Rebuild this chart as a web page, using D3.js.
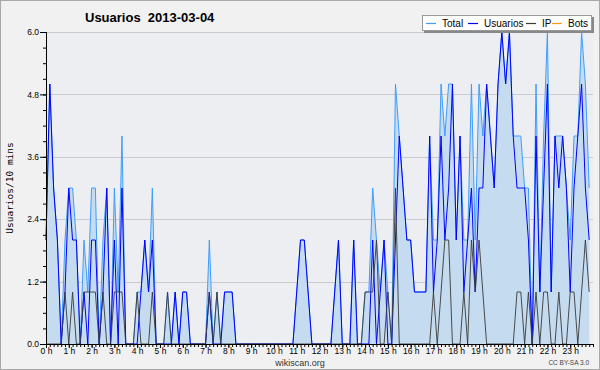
<!DOCTYPE html>
<html>
<head>
<meta charset="utf-8">
<script src="https://cdn.jsdelivr.net/npm/d3@7"></script>
<style>
  body { margin: 0; background: #ffffff; }
  svg { display: block; font-family: 'Liberation Sans', sans-serif; }
  .tick text { font-size: 8.5px; fill: #000; font-family: 'Liberation Sans', sans-serif; }
</style>
</head>
<body>
<svg id="svg-chart" width="600" height="370"></svg>
<script>
//////////////////////////////////////////////////////////////////////////////////////////
// Data (one value per 10 minutes, 144 slots)
//////////////////////////////////////////////////////////////////////////////////////////

var series_names = ['Total', 'Usuarios', 'IP', 'Bots']

var total = [
  2,5,3,2,0,2,3,3,2,0, 2,1,3,3,0,2,3,0,3,1, 4,0,0,0,1,1,2,1,3,0,
  0,0,1,0,1,0,1,1,0,0, 0,0,0,2,0,1,0,1,1,1, 0,0,0,0,0,0,0,0,0,0,
  0,0,0,0,0,0,1,2,2,1, 0,0,0,0,0,0,1,2,0,0, 0,2,0,0,1,1,3,2,1,2,
  1,0,5,4,3,2,2,1,1,1, 1,4,2,2,5,4,5,5,2,4, 2,2,5,2,5,4,5,4,3,5,
  6,5,6,4,4,4,3,3,0,5, 1,4,6,1,4,4,4,3,2,4, 4,6,5,3
]

var usuarios = [
  2,5,3,2,0,1,3,2,2,0, 1,0,2,2,0,1,3,0,2,0, 3,0,0,0,0,1,2,1,2,0,
  0,0,0,0,1,0,1,1,0,0, 0,0,0,1,0,0,0,1,1,1, 0,0,0,0,0,0,0,0,0,0,
  0,0,0,0,0,0,1,2,2,1, 0,0,0,0,0,0,1,2,0,0, 0,2,0,0,0,0,2,0,1,2,
  0,0,2,4,3,2,2,1,1,1, 1,4,1,2,4,2,3,5,2,4, 1,2,3,1,3,3,5,4,3,5,
  6,5,6,4,3,3,3,2,0,4, 1,3,5,1,4,3,4,3,1,3, 4,5,3,2
]

var ip = [
  0,0,0,0,0,1,0,1,0,0, 1,1,1,1,0,1,0,0,1,1, 1,0,0,0,1,0,0,0,1,0,
  0,0,1,0,0,0,0,0,0,0, 0,0,0,1,0,1,0,0,0,0, 0,0,0,0,0,0,0,0,0,0,
  0,0,0,0,0,0,0,0,0,0, 0,0,0,0,0,0,0,0,0,0, 0,0,0,0,1,1,1,2,0,0,
  1,0,3,0,0,0,0,0,0,0, 0,0,1,0,1,2,2,0,0,0, 1,0,2,1,2,1,0,0,0,0,
  0,0,0,0,1,1,0,1,0,1, 0,1,1,0,0,1,0,0,1,1, 0,1,2,1
]

var bots = [
  0,0,0,0,0,0,0,0,0,0, 0,0,0,0,0,0,0,0,0,0, 0,0,0,0,0,0,0,0,0,0,
  0,0,0,0,0,0,0,0,0,0, 0,0,0,0,0,0,0,0,0,0, 0,0,0,0,0,0,0,0,0,0,
  0,0,0,0,0,0,0,0,0,0, 0,0,0,0,0,0,0,0,0,0, 0,0,0,0,0,0,0,0,0,0,
  0,0,0,0,0,0,0,0,0,0, 0,0,0,0,0,0,0,0,0,0, 0,0,0,0,0,0,0,0,0,0,
  0,0,0,0,0,0,0,0,0,0, 0,0,0,0,0,0,0,0,0,0, 0,0,0,0
]

var hour_labels = d3.range(24).map(function(h) { return h + ' h' })
var y_ticks = [0, 1.2, 2.4, 3.6, 4.8, 6.0]

//////////////////////////////////////////////////////////////////////////////////////////
// Layout
//////////////////////////////////////////////////////////////////////////////////////////

var svg = d3.select('#svg-chart')
var plot_left = 46, plot_right = 593, plot_top = 32, plot_bottom = 344

var x = d3.scaleLinear().domain([0, 144]).range([plot_left, plot_right])
var y = d3.scaleLinear().domain([0, 6]).range([plot_bottom, plot_top])

var colors = {
  'Total': '#3f9dfb',
  'Usuarios': '#0000ff',
  'IP': '#3a3a3a',
  'Bots': '#ff9900'
}

// Background
svg.append('rect')
  .attr('x', 0.5).attr('y', 0.5)
  .attr('width', 599).attr('height', 369)
  .attr('fill', '#f1f1f1')
  .attr('stroke', '#a9a9a9')

svg.append('rect')
  .attr('x', plot_left).attr('y', plot_top)
  .attr('width', plot_right - plot_left).attr('height', plot_bottom - plot_top)
  .attr('fill', '#eceef1')

// Grid lines
svg.append('g')
  .selectAll('line')
  .data(y_ticks.slice(1))
  .join('line')
  .attr('x1', plot_left).attr('x2', plot_right)
  .attr('y1', function(d) { return Math.round(y(d)) + 0.5 })
  .attr('y2', function(d) { return Math.round(y(d)) + 0.5 })
  .attr('stroke', '#c9cbcf')

//////////////////////////////////////////////////////////////////////////////////////////
// Series
//////////////////////////////////////////////////////////////////////////////////////////

function gen_line(values) {
  return d3.line()
    .x(function(d, i) { return x(i) })
    .y(function(d) { return y(d) })(values)
}

svg.append('path')
  .attr('d', gen_line(bots))
  .attr('fill', 'none')
  .attr('stroke', colors['Bots'])

svg.append('path')
  .attr('d', d3.area()
    .x(function(d, i) { return x(i) })
    .y0(y(0))
    .y1(function(d) { return y(d) })(total))
  .attr('fill', '#c5dcf0')

svg.append('path')
  .attr('d', gen_line(total))
  .attr('fill', 'none')
  .attr('stroke', colors['Total'])

svg.append('path')
  .attr('d', gen_line(usuarios))
  .attr('fill', 'none')
  .attr('stroke', colors['Usuarios'])

svg.append('path')
  .attr('d', gen_line(ip))
  .attr('fill', 'none')
  .attr('stroke', colors['IP'])
  .attr('stroke-opacity', 0.9)

//////////////////////////////////////////////////////////////////////////////////////////
// Axes
//////////////////////////////////////////////////////////////////////////////////////////

// Minor y ticks every 0.3
svg.append('g')
  .attr('transform', 'translate(' + plot_left + ',0)')
  .call(d3.axisLeft(y).tickValues(d3.range(0, 6.01, 0.3)).tickSize(3).tickFormat(''))
  .call(function(g) { g.select('.domain').remove() })

svg.append('g')
  .attr('transform', 'translate(' + plot_left + ',0)')
  .call(d3.axisLeft(y).tickValues(y_ticks).tickSize(6).tickPadding(1)
    .tickFormat(function(d) { return d3.format('.1f')(d) }))
  .call(function(g) { g.select('.domain').attr('d', 'M0.5,' + plot_top + 'V' + (plot_bottom + 0.5)) })

// Minor x ticks every 10 minutes
svg.append('g')
  .attr('transform', 'translate(0,' + plot_bottom + ')')
  .call(d3.axisBottom(x).tickValues(d3.range(0, 145, 1)).tickSize(3).tickFormat(''))
  .call(function(g) { g.select('.domain').remove() })

svg.append('g')
  .attr('transform', 'translate(0,' + plot_bottom + ')')
  .call(d3.axisBottom(x).tickValues(d3.range(0, 144, 6)).tickSize(4).tickPadding(0)
    .tickFormat(function(d) { return hour_labels[d / 6] }))
  .call(function(g) { g.select('.domain').attr('d', 'M' + plot_left + ',0.5H' + plot_right) })

// Y axis title
svg.append('text')
  .attr('transform', 'translate(13,' + ((plot_top + plot_bottom) / 2) + ') rotate(-90)')
  .attr('text-anchor', 'middle')
  .attr('font-family', 'DejaVu Sans Mono')
  .attr('font-size', 9.5)
  .text('Usuarios/10 mins')

//////////////////////////////////////////////////////////////////////////////////////////
// Title, legend, footer
//////////////////////////////////////////////////////////////////////////////////////////

svg.append('text')
  .attr('x', 85).attr('y', 22)
  .attr('font-weight', 'bold')
  .attr('font-size', 13)
  .style('white-space', 'pre')
  .text('Usuarios  2013-03-04')

var g_legend = svg.append('g').attr('id', 'g-legend')

g_legend.append('rect')
  .attr('x', 424).attr('y', 17)
  .attr('width', 170).attr('height', 16)
  .attr('fill', '#888')

g_legend.append('rect')
  .attr('x', 422.5).attr('y', 15.5)
  .attr('width', 169).attr('height', 15)
  .attr('fill', '#fff')
  .attr('stroke', '#999')

var legend_x = [426, 468, 526, 552]
var legend_item = g_legend.selectAll('g.legend-item')
  .data(series_names)
  .join('g')
  .attr('class', 'legend-item')
  .attr('transform', function(d, i) { return 'translate(' + legend_x[i] + ',0)' })

legend_item.append('line')
  .attr('x1', 0).attr('x2', 10)
  .attr('y1', 23.5).attr('y2', 23.5)
  .attr('stroke', function(d) { return colors[d] })
  .attr('stroke-width', 1.2)

legend_item.append('text')
  .attr('x', 16).attr('y', 27)
  .attr('font-size', 10)
  .text(function(d) { return d })

svg.append('text')
  .attr('x', 300).attr('y', 366)
  .attr('text-anchor', 'middle')
  .attr('font-size', 9)
  .attr('fill', '#333')
  .text('wikiscan.org')

svg.append('text')
  .attr('x', 589).attr('y', 365)
  .attr('text-anchor', 'end')
  .attr('font-size', 6.5)
  .attr('fill', '#444')
  .text('CC BY-SA 3.0')
</script>
</body>
</html>
